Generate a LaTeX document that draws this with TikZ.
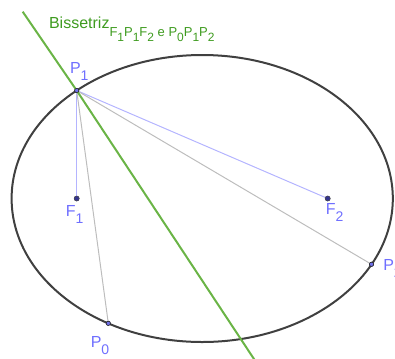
\documentclass[tikz,border=0pt]{standalone}
\usepackage{fontspec}
\setmainfont{Liberation Sans}
\definecolor{ellcol}{HTML}{404040}
\definecolor{greenline}{HTML}{6AB446}
\definecolor{greentext}{HTML}{3E9B1F}
\definecolor{lblblue}{HTML}{6F6FFF}
\definecolor{ptdark}{HTML}{34348F}
\definecolor{ptlight}{HTML}{6F6FE8}
\definecolor{thinblue}{HTML}{B4B4FF}
\definecolor{thingray}{HTML}{BDBDBD}
\newcommand\lsub[1]{\raisebox{-5.4pt}{\fontsize{10.5pt}{10.5pt}\selectfont #1}}
\newcommand\tsub[1]{\raisebox{-3.75pt}{\fontsize{9pt}{9pt}\selectfont #1}}
\begin{document}
\begin{tikzpicture}[x=0.75pt,y=-0.75pt,
  ellstyle/.style={draw=ellcol,line width=1.5pt},
  bisline/.style={draw=greenline,line width=1.5pt},
  thinb/.style={draw=thinblue,line width=0.75pt},
  thing/.style={draw=thingray,line width=0.75pt},
  focuspt/.style={circle,fill=ptdark,draw=black!70,line width=0.3pt,inner sep=0pt,minimum size=3.8pt},
  onpt/.style={circle,fill=ptlight,draw=black!85,line width=0.4pt,inner sep=0pt,minimum size=3.2pt},
  ptlabel/.style={inner sep=0pt,anchor=base west,text=lblblue,font=\fontsize{12pt}{12pt}\selectfont},
  titlelbl/.style={inner sep=0pt,anchor=base west,text=greentext,font=\fontsize{12pt}{12pt}\selectfont}]
\useasboundingbox (0,0) rectangle (395,358);
\coordinate (c) at (202.2,198.5);
\draw[ellstyle] (c) ellipse [x radius=142.95pt, y radius=107.625pt];
\node[focuspt] (F1) at (76.7,198.5) {};
\node[focuspt] (F2) at (327.7,198.5) {};
\node[onpt] (P1) at (76.7,90.5) {};
\node[onpt] (P0) at (108.3,323.3) {};
\node[onpt] (P2) at (371.5,264.3) {};
\coordinate (Btop) at (22.7,11.7);
\coordinate (Bbot) at (255.3,361);
\draw[thinb] (P1) -- (F1);
\draw[thinb] (P1) -- (F2);
\draw[thing] (P1) -- (P0);
\draw[thing] (P1) -- (P2);
\draw[bisline] (Btop) -- (P1.center) -- (Bbot);
\node[onpt] at (P1) {};
\node[focuspt] at (F1) {};
\node[focuspt] at (F2) {};
\node[onpt] at (P0) {};
\node[onpt] at (P2) {};
\node[ptlabel] (lP1) at (69.8,73) {P\lsub{1}};
\node[ptlabel] (lF1) at (65.6,216.7) {F\lsub{1}};
\node[ptlabel] (lF2) at (325.6,214.5) {F\lsub{2}};
\node[ptlabel] (lP0) at (90.5,347) {P\lsub{0}};
\node[ptlabel] (lP2) at (383,270) {P\lsub{2}};
\node[titlelbl] (title) at (48.8,28.3) {Bissetriz\raisebox{-6.3pt}{\fontsize{9.75pt}{9.75pt}\selectfont F\tsub{1}P\tsub{1}F\tsub{2} e P\tsub{0}P\tsub{1}P\tsub{2}}};
\end{tikzpicture}
\end{document}
